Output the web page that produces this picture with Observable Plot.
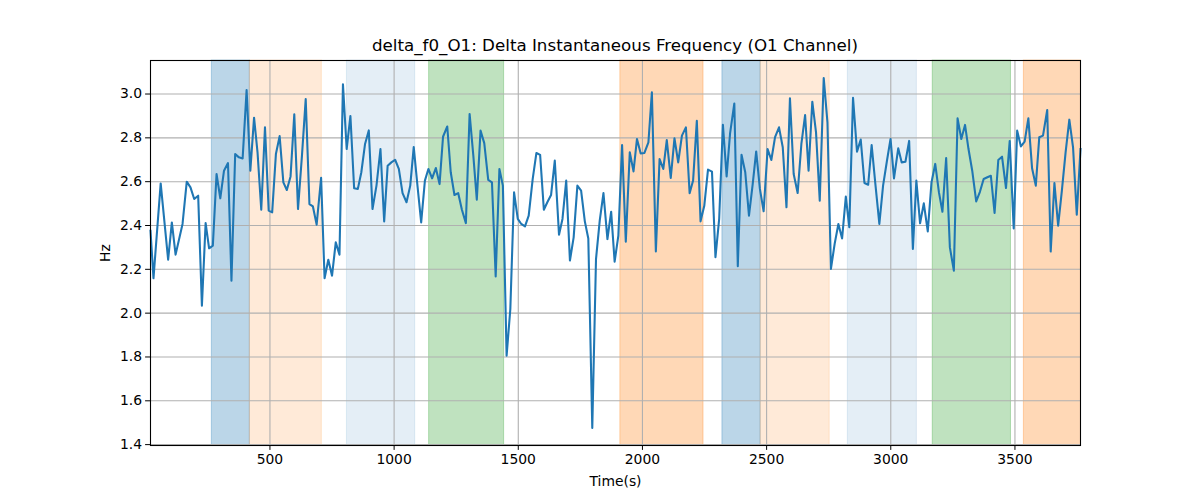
<!DOCTYPE html>
<html>
<head>
<meta charset="utf-8">
<script src="https://cdn.jsdelivr.net/npm/d3@7"></script>
<script src="https://cdn.jsdelivr.net/npm/@observablehq/plot@0.6"></script>
<style>
  html, body { margin: 0; padding: 0; background: #fff; }
  #wrap { width: 1200px; height: 500px; position: relative; font-family: "DejaVu Sans", sans-serif; }
  #title { position: absolute; left: 150px; width: 930px; top: 35px; text-align: center; font-size: 16.7px; line-height: 20px; color: #000; }
  #chart { position: absolute; left: 0; top: 60px; }
</style>
</head>
<body>
<div id="wrap">
  <div id="title">delta_f0_O1: Delta Instantaneous Frequency (O1 Channel)</div>
  <div id="chart"></div>
</div>
<script>
const times = [19,31,60,90,105,120,148,165,180,195,211,226,241,255,270,285,300,315,331,345,360,375,390,406,421,436,450,465,480,495,509,524,539,554,568,583,598,613,629,644,659,673,688,706,720,735,750,765,780,794,809,824,839,854,868,883,898,913,929,945,960,974,989,1004,1019,1034,1050,1065,1079,1094,1109,1124,1138,1153,1168,1183,1197,1214,1228,1243,1258,1273,1289,1304,1319,1333,1348,1363,1379,1394,1409,1424,1438,1453,1468,1483,1498,1512,1527,1542,1558,1573,1588,1603,1617,1632,1647,1664,1678,1693,1708,1723,1738,1753,1768,1782,1798,1813,1828,1843,1859,1874,1888,1903,1918,1933,1949,1964,1978,1993,2008,2024,2038,2054,2069,2084,2098,2114,2129,2144,2159,2175,2190,2204,2219,2234,2249,2264,2280,2294,2309,2324,2339,2353,2370,2384,2399,2414,2429,2444,2458,2473,2488,2504,2519,2534,2550,2565,2580,2594,2609,2625,2640,2655,2669,2684,2699,2714,2730,2745,2759,2774,2789,2804,2819,2833,2848,2864,2879,2894,2909,2923,2938,2954,2969,2984,2999,3013,3030,3044,3059,3074,3089,3103,3118,3133,3149,3164,3179,3194,3208,3223,3238,3254,3269,3284,3299,3313,3328,3344,3359,3374,3389,3403,3418,3433,3448,3464,3479,3495,3509,3524,3539,3554,3569,3584,3598,3613,3630,3644,3659,3674,3689,3704,3719,3734,3749,3764];
const values = [2.376,2.159,2.592,2.244,2.414,2.267,2.407,2.600,2.574,2.521,2.536,2.034,2.411,2.296,2.308,2.635,2.524,2.650,2.685,2.148,2.726,2.711,2.706,3.018,2.650,2.892,2.734,2.472,2.848,2.468,2.460,2.726,2.808,2.597,2.562,2.624,2.907,2.475,2.720,2.977,2.498,2.487,2.404,2.618,2.159,2.244,2.171,2.323,2.267,3.044,2.749,2.900,2.570,2.567,2.643,2.772,2.834,2.475,2.582,2.749,2.419,2.673,2.688,2.700,2.658,2.548,2.506,2.582,2.758,2.582,2.414,2.605,2.658,2.615,2.662,2.589,2.805,2.852,2.643,2.539,2.548,2.472,2.411,2.909,2.719,2.518,2.833,2.776,2.608,2.597,2.167,2.658,2.582,1.806,2.019,2.551,2.430,2.407,2.396,2.445,2.612,2.731,2.722,2.472,2.506,2.539,2.696,2.358,2.430,2.605,2.240,2.346,2.582,2.559,2.419,2.341,1.476,2.247,2.422,2.548,2.338,2.463,2.235,2.354,2.767,2.326,2.734,2.647,2.795,2.729,2.731,2.779,3.008,2.282,2.703,2.658,2.790,2.617,2.798,2.688,2.810,2.848,2.547,2.605,2.878,2.419,2.490,2.655,2.646,2.255,2.430,2.860,2.624,2.822,2.957,2.214,2.723,2.643,2.445,2.589,2.738,2.567,2.465,2.749,2.699,2.803,2.848,2.757,2.483,2.980,2.635,2.548,2.772,2.904,2.650,2.965,2.825,2.513,3.073,2.871,2.202,2.316,2.407,2.341,2.532,2.392,2.983,2.737,2.792,2.594,2.586,2.767,2.589,2.407,2.582,2.691,2.795,2.615,2.752,2.688,2.691,2.786,2.293,2.605,2.410,2.501,2.373,2.597,2.681,2.551,2.463,2.708,2.300,2.194,2.889,2.795,2.859,2.749,2.650,2.510,2.554,2.612,2.620,2.627,2.457,2.699,2.714,2.571,2.786,2.387,2.833,2.761,2.783,2.889,2.661,2.582,2.803,2.810,2.927,2.281,2.594,2.399,2.559,2.734,2.883,2.757,2.449,2.749];

const spanStarts = [266, 419, 810, 1141, 1911, 2322, 2476, 2827, 3169, 3536];
const spanEnds   = [419, 709, 1085, 1443, 2246, 2476, 2754, 3105, 3484, 3766];
const spanColors = ["#1f77b4","#ff7f0e","#1f77b4","#2ca02c","#ff7f0e","#1f77b4","#ff7f0e","#1f77b4","#2ca02c","#ff7f0e"];
const spanAlphas = [0.3, 0.16, 0.12, 0.3, 0.3, 0.3, 0.16, 0.12, 0.3, 0.3];

const xTicks = [500, 1000, 1500, 2000, 2500, 3000, 3500];
const yTicks = [1.4, 1.6, 1.8, 2.0, 2.2, 2.4, 2.6, 2.8, 3.0];

const series = times.map((t, i) => ({t, v: values[i]}));
const spans = spanStarts.map((s, i) => ({s, e: spanEnds[i], c: spanColors[i], a: spanAlphas[i]}));

const spanMarks = spans.map(d => Plot.rect([d], {
  x1: "s", x2: "e", fill: d.c, fillOpacity: d.a, stroke: d.c, strokeOpacity: d.a, strokeWidth: 1
}));

const chart = Plot.plot({
  width: 1200,
  height: 440,
  marginLeft: 150,
  marginRight: 120,
  marginTop: 0,
  marginBottom: 55,
  style: { fontFamily: "DejaVu Sans, sans-serif", fontSize: "13.9px", color: "#000", background: "#fff", overflow: "visible" },
  x: { domain: [times[0], times[times.length - 1]] },
  y: { domain: [1.396, 3.153] },
  marks: [
    ...spanMarks,
    Plot.gridX(xTicks, { stroke: "#b0b0b0", strokeOpacity: 1, strokeWidth: 1.1 }),
    Plot.gridY(yTicks, { stroke: "#b0b0b0", strokeOpacity: 1, strokeWidth: 1.1 }),
    Plot.line(series, { x: "t", y: "v", stroke: "#1f77b4", strokeWidth: 2.08, strokeLinejoin: "round", strokeLinecap: "square" }),
    Plot.frame({ stroke: "#000", strokeWidth: 1.1 }),
    Plot.axisX(xTicks, { tickSize: 4.9, tickPadding: 3.5, tickFormat: d => String(d), label: "Time(s)", labelAnchor: "center", labelArrow: "none", labelOffset: 40 }),
    Plot.axisY(yTicks, { tickSize: 4.9, tickPadding: 3.5, tickFormat: d => d.toFixed(1), label: "Hz", labelAnchor: "center", labelArrow: "none", labelOffset: 50 })
  ]
});
document.getElementById("chart").appendChild(chart);
</script>
</body>
</html>
